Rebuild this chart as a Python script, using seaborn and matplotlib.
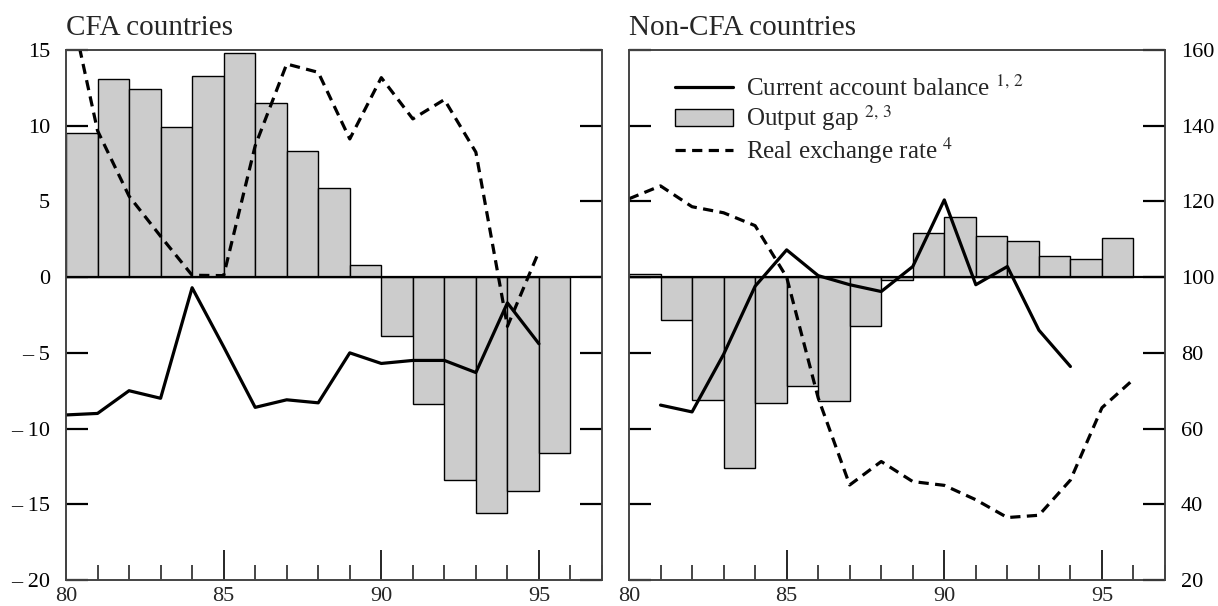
import pandas as pd
import matplotlib.pyplot as plt
import seaborn as sns
from matplotlib.lines import Line2D
from matplotlib.patches import Patch
from matplotlib.ticker import FuncFormatter, MultipleLocator

# years are two-digit (1980 = 80)
gap_years = list(range(80, 96))
cfa_ca_years = list(range(80, 96))
cfa_rer_years = list(range(80, 96))
non_ca_years = list(range(81, 95))
non_rer_years = list(range(80, 97))

# CFA countries
cfa_gap = [9.5, 13.1, 12.4, 9.9, 13.3, 14.8, 11.5, 8.3, 5.9, 0.8,
           -3.9, -8.4, -13.4, -15.6, -14.1, -11.6]
cfa_ca = [-9.1, -9.0, -7.5, -8.0, -0.7, -4.6, -8.6, -8.1, -8.3, -5.0,
          -5.7, -5.5, -5.5, -6.3, -1.7, -4.4]
cfa_rer = [177, 138.7, 121.4, 110.8, 100.5, 100.4, 134.7, 156.3, 154.1, 136.5,
           152.7, 141.8, 146.9, 133.0, 87.0, 106.8]

# Non-CFA countries
non_gap = [0.2, -2.8, -8.1, -12.6, -8.3, -7.2, -8.2, -3.2, -0.2, 2.9,
           4.0, 2.7, 2.4, 1.4, 1.2, 2.6]
non_ca = [-8.45, -8.9, -5.1, -0.6, 1.8, 0.1, -0.5, -0.95, 0.7, 5.1,
          -0.5, 0.7, -3.5, -5.9]
non_rer = [120.7, 124.1, 118.6, 117.0, 113.6, 100.0, 68.1, 45.1, 51.3, 46.0,
           45.0, 41.2, 36.5, 37.1, 46.4, 65.5, 73.0]

left_ticks = [-20, -15, -10, -5, 0, 5, 10, 15]
right_ticks = [20, 40, 60, 80, 100, 120, 140, 160]
x_major = [80, 85, 90, 95]

legend_labels = ["Current account balance $^{1,\\,2}$",
                 "Output gap $^{2,\\,3}$",
                 "Real exchange rate $^{4}$"]

sns.set_style("white")
plt.rcParams['font.family'] = ['Liberation Serif', 'DejaVu Serif']
plt.rcParams['mathtext.fontset'] = 'stix'

BAR = '#cccccc'
SPINE = '#444444'
LW = 2.3
DASH = (0, (3.2, 2.0))


def dash_fmt(v, pos):
    v = int(round(v))
    return f"\u2013 {abs(v)}" if v < 0 else f"{v}"


def style_axes(a):
    for s in a.spines.values():
        s.set_color(SPINE)
        s.set_linewidth(1.2)


def draw_panel(ax, title, gap, ca_x, ca, rer_x, rer, labels_left):
    df_gap = pd.DataFrame({'x': [y + 0.5 for y in gap_years], 'gap': gap})
    sns.barplot(data=df_gap, x='x', y='gap', native_scale=True, width=1,
                color=BAR, saturation=1, edgecolor='k', linewidth=1,
                errorbar=None, ax=ax)
    ax.axhline(0, color='k', lw=1.6, zorder=3)
    sns.lineplot(x=ca_x, y=ca, color='k', lw=LW, ax=ax, zorder=4)
    ax.set_xlim(80, 97)
    ax.set_ylim(-20, 15)
    ax.set_yticks(left_ticks)
    ax.yaxis.set_major_formatter(FuncFormatter(dash_fmt))
    ax.set_xticks(x_major)
    ax.xaxis.set_minor_locator(MultipleLocator(1))
    ax.set_xlabel('')
    ax.set_ylabel('')

    ax2 = ax.twinx()
    sns.lineplot(x=rer_x, y=rer, color='k', lw=LW, linestyle=DASH, ax=ax2)
    ax2.set_ylim(20, 160)
    ax2.set_yticks(right_ticks)
    ax2.set_ylabel('')

    ax.tick_params(axis='y', direction='in', length=16, width=1.6, colors='k',
                   left=True, right=False, labelleft=labels_left, pad=11.5,
                   labelsize=16)
    ax2.tick_params(axis='y', direction='in', length=16, width=1.6, colors='k',
                    right=True, left=False, labelright=not labels_left,
                    pad=11.5, labelsize=16)
    ax.tick_params(axis='x', which='major', direction='in', length=21.6,
                   width=1.4, bottom=True, top=False, labelsize=16, pad=5)
    ax.tick_params(axis='x', which='minor', direction='in', length=10.8,
                   width=1.2, bottom=True, top=False)
    ax.set_title(title, loc='left', fontsize=21, pad=10.5)
    style_axes(ax)
    style_axes(ax2)
    return ax2


fig = plt.figure(figsize=(12.18, 6.06), dpi=100)
ax_l = fig.add_axes([66 / 1218, 26 / 606, 536 / 1218, 530 / 606])
ax_r = fig.add_axes([629 / 1218, 26 / 606, 536 / 1218, 530 / 606])

draw_panel(ax_l, "CFA countries", cfa_gap, cfa_ca_years, cfa_ca,
           cfa_rer_years, cfa_rer, True)
ax_r2 = draw_panel(ax_r, "Non-CFA countries", non_gap, non_ca_years, non_ca,
                   non_rer_years, non_rer, False)

handles = [Line2D([], [], color='k', lw=LW),
           Patch(facecolor=BAR, edgecolor='k', lw=1),
           Line2D([], [], color='k', lw=LW, linestyle=DASH)]
ax_r2.legend(handles, legend_labels, loc='upper left',
             bbox_to_anchor=(0.086, 0.952), frameon=False, fontsize=18,
             handlelength=2.3, handletextpad=0.55, labelspacing=0.1,
             borderaxespad=0, borderpad=0)

fig.savefig('out.png', dpi=100)
